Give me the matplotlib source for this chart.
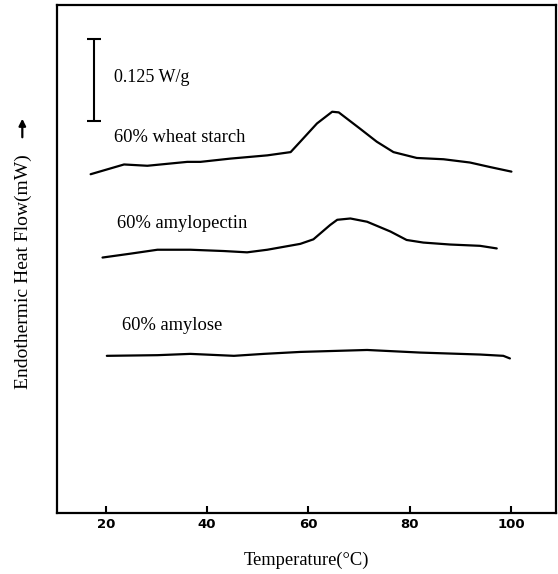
import matplotlib
matplotlib.use("Agg")
import matplotlib.pyplot as plt

# DSC traces (temperature in C, heat flow in W/g, offset)
wheat_T = [17.0, 23.6, 28.2, 36.1, 38.7, 44.6, 51.9, 56.5, 58.4, 61.7, 64.7,
           66.0, 70.2, 73.5, 76.8, 81.4, 86.7, 91.9, 95.9, 100.1]
wheat_q = [0.520, 0.535, 0.533, 0.539, 0.539, 0.544, 0.549, 0.554, 0.570, 0.598, 0.616,
           0.615, 0.590, 0.570, 0.554, 0.545, 0.543, 0.538, 0.531, 0.524]

amylopectin_T = [19.35, 24.9, 30.2, 36.7, 43.3, 47.9, 51.9, 58.4, 61.0, 64.3, 65.7,
                 68.3, 71.6, 76.2, 79.4, 82.7, 88.0, 93.9, 97.2]
amylopectin_q = [0.392, 0.398, 0.404, 0.404, 0.402, 0.400, 0.404, 0.413, 0.420, 0.442, 0.450,
                 0.452, 0.447, 0.432, 0.419, 0.415, 0.412, 0.410, 0.406]

amylose_T = [20.2, 30.2, 36.7, 45.3, 51.2, 58.4, 71.6, 82.1, 93.9, 98.5, 99.8]
amylose_q = [0.241, 0.242, 0.244, 0.241, 0.244, 0.247, 0.250, 0.246, 0.243, 0.241, 0.237]

xticks = [20, 40, 60, 80, 100]
scale_bar = 0.125  # W/g

serif = ["Liberation Serif", "DejaVu Serif"]

fig = plt.figure(figsize=(5.58, 5.74), dpi=100)
ax = fig.add_axes([0.1016, 0.1068, 0.8948, 0.8845])

for T, q in [(wheat_T, wheat_q), (amylopectin_T, amylopectin_q), (amylose_T, amylose_q)]:
    ax.plot(T, q, color="black", lw=1.6, solid_capstyle="round")

ax.set_xlim(10.3, 108.9)
ax.set_ylim(0, 0.78)

# scale bar
ax.errorbar([17.7], [0.602], yerr=[[0], [scale_bar]], fmt="none", ecolor="black",
            elinewidth=1.5, capsize=5, capthick=1.5)
ax.text(21.6, 0.668, "0.125 W/g", family=serif, fontsize=13, va="center")

# curve labels
ax.text(21.6, 0.576, "60% wheat starch", family=serif, fontsize=13.3, va="center")
ax.text(22.3, 0.445, "60% amylopectin", family=serif, fontsize=13.3, va="center")
ax.text(23.2, 0.288, "60% amylose", family=serif, fontsize=13.3, va="center")

ax.set_xticks(xticks)
ax.set_xticklabels([str(t) for t in xticks], fontweight="bold", family="DejaVu Sans", fontsize=9.5)
ax.tick_params(axis="x", direction="in", length=5, width=1.5, pad=4)
ax.set_yticks([])
for s in ax.spines.values():
    s.set_linewidth(1.6)

ax.set_xlabel("Temperature(\u00b0C)", family=serif, fontsize=13.3, labelpad=15)
fig.text(0.042, 0.526, "Endothermic Heat Flow(mW)", family=serif, fontsize=14,
         rotation=90, ha="center", va="center")
ax.annotate("", xy=(0.04, 0.798), xytext=(0.04, 0.756), xycoords="figure fraction",
            arrowprops=dict(arrowstyle="-|>", color="black", lw=1.6, mutation_scale=10))

fig.savefig("out.png", dpi=100)
